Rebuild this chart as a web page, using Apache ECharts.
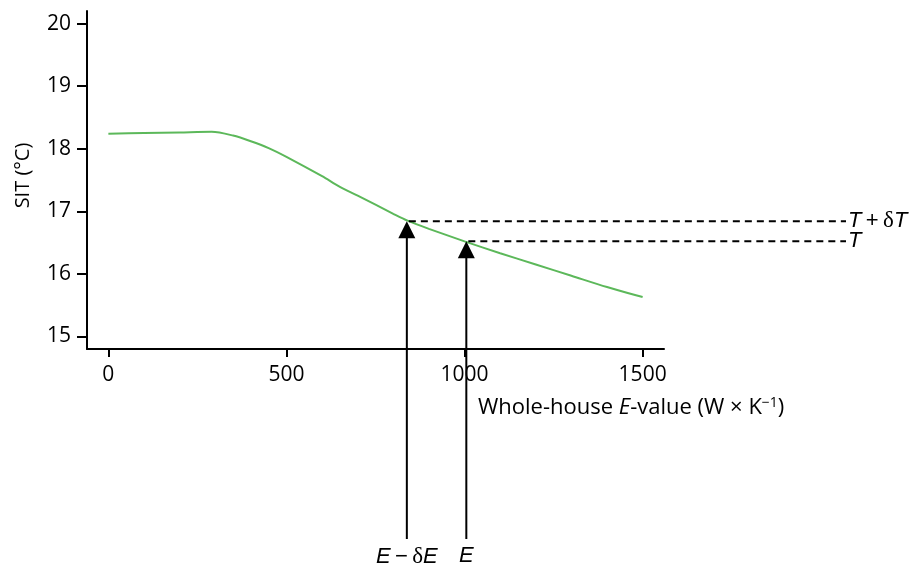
<!DOCTYPE html>
<html>
<head>
<meta charset="utf-8">
<script src="https://cdn.jsdelivr.net/npm/echarts@6/dist/echarts.min.js"></script>
<style>html,body{margin:0;padding:0;background:#fff}#c{width:915px;height:564px}</style>
</head>
<body>
<div id="c"></div>
<script>
// Data
const eValues = [0, 100, 200, 290, 350, 400, 450, 500, 600, 650, 700, 800, 840, 900, 1000, 1100, 1200, 1300, 1400, 1500];
const sitValues = [18.24, 18.25, 18.26, 18.27, 18.21, 18.12, 18.01, 17.87, 17.56, 17.39, 17.25, 16.96, 16.85, 16.72, 16.52, 16.33, 16.15, 15.97, 15.79, 15.63];
const xTicks = [0, 500, 1000, 1500];
const yTicks = [15, 16, 17, 18, 19, 20];
// annotation points: E values, SIT at those E values, labels
const annoE = [838, 1005];
const annoT = [16.84, 16.52];
const annoBottom = ['{i|E}{r|\u2009\u2212\u2009}{s|\u03b4}{i|E}', '{i|E}'];
const annoRight = ['{i|T}{r|\u2009+\u2009}{s|\u03b4}{i|T}', '{i|T}'];

const font = '"Open Sans", "Noto Sans", sans-serif';
const rich = {
  i: {fontFamily: '"Liberation Sans", Arial, sans-serif', fontStyle: 'italic', fontSize: 22, color: '#000'},
  r: {fontFamily: '"Liberation Sans", Arial, sans-serif', fontSize: 22, color: '#000'},
  s: {fontFamily: '"Liberation Serif", serif', fontSize: 23, color: '#000'}
};

const chart = echarts.init(document.getElementById('c'), null, {renderer: 'canvas'});
const option = {
  animation: false,
  backgroundColor: '#fff',
  grid: {left: 87, right: 251, top: 11, bottom: 215, containLabel: false},
  xAxis: {
    type: 'value', min: -60, max: 1560,
    axisLine: {onZero: false, lineStyle: {color: '#000', width: 2}},
    axisTick: {customValues: xTicks, length: 8, lineStyle: {color: '#000', width: 2}},
    axisLabel: {customValues: xTicks, fontSize: 21, color: '#000', fontFamily: font, margin: 16,
      formatter: v => String(v)},
    splitLine: {show: false}
  },
  yAxis: {
    type: 'value', min: 14.8, max: 20.2,
    name: 'SIT (\u00b0C)', nameLocation: 'middle', nameGap: 54,
    nameTextStyle: {fontSize: 20, color: '#000', fontFamily: font, padding: [0, 0, 0, 9]},
    axisLine: {show: true, onZero: false, lineStyle: {color: '#000', width: 2}},
    axisTick: {show: true, customValues: yTicks, length: 10, lineStyle: {color: '#000', width: 2}},
    axisLabel: {customValues: yTicks, fontSize: 21, color: '#000', fontFamily: font, margin: 16,
      formatter: v => String(v)},
    splitLine: {show: false}
  },
  graphic: [{
    type: 'text', left: 478, top: 396,
    style: {
      text: '{a|Whole-house }{b|E}{a|-value (W \u00d7 K}{c|\u2212}{d|1}{a|)}',
      rich: {
        a: {fontSize: 22, fontFamily: font, fill: '#000'},
        b: {fontSize: 22, fontFamily: font, fontStyle: 'italic', fill: '#000'},
        c: {fontSize: 14, fontFamily: font, fill: '#000', verticalAlign: 'top', padding: [0,0,10,0]},
        d: {fontSize: 14, fontFamily: font, fill: '#000', verticalAlign: 'top', padding: [0,0,10,0]}
      }
    }
  }],
  series: [
    {
      type: 'line',
      data: eValues.map((e, i) => [e, sitValues[i]]),
      smooth: 0.3, showSymbol: false,
      lineStyle: {color: '#5cb85a', width: 2},
      z: 3
    },
    {
      type: 'custom',
      clip: false,
      z: 4,
      data: annoE.map((e, i) => [e, annoT[i], i]),
      renderItem: function (params, api) {
        const idx = api.value(2);
        const p = api.coord([api.value(0), api.value(1)]);
        const cs = params.coordSys;
        const gridBottom = cs.y + cs.height;
        const lineBottom = gridBottom + 190;
        const dashEnd = cs.x + cs.width + 182;
        const aw = 8.5, ah = 17;
        return {
          type: 'group',
          children: [
            {type: 'line', shape: {x1: p[0], y1: p[1] + ah - 1, x2: p[0], y2: lineBottom},
             style: {stroke: '#000', lineWidth: 2}},
            {type: 'polygon', shape: {points: [[p[0], p[1]], [p[0] - aw, p[1] + ah], [p[0] + aw, p[1] + ah]]},
             style: {fill: '#000'}},
            {type: 'line', shape: {x1: p[0] + 2, y1: p[1], x2: dashEnd, y2: p[1]},
             style: {stroke: '#000', lineWidth: 2, lineDash: [7, 5]}},
            {type: 'text', x: dashEnd + 2, y: p[1],
             style: {text: annoRight[idx], rich: rich, align: 'left', verticalAlign: 'middle'}},
            {type: 'text', x: p[0], y: lineBottom + 6,
             style: {text: annoBottom[idx], rich: rich, align: 'center', verticalAlign: 'top'}}
          ]
        };
      }
    }
  ]
};
chart.setOption(option);
</script>
</body>
</html>
